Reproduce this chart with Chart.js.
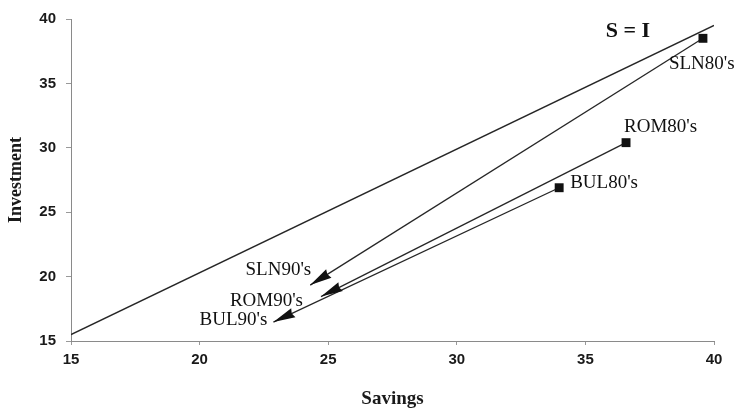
<!DOCTYPE html>
<html>
<head>
<meta charset="utf-8">
<script src="https://cdn.jsdelivr.net/npm/chart.js@4/dist/chart.umd.min.js"></script>
<style>
  html, body { margin: 0; padding: 0; background: #fff; }
  #wrap { width: 738px; height: 411px; position: relative; }
</style>
</head>
<body>
<div id="wrap"><canvas id="c" width="738" height="411"></canvas></div>
<script>
// Savings vs. investment (% of GDP), 1980s averages and 1990s averages
const countries   = ['SLN', 'ROM', 'BUL'];
const savings80s  = [39.57, 36.58, 33.98];
const invest80s   = [38.5, 30.4, 26.9];
const savings90s  = [24.3, 24.72, 22.87];
const invest90s   = [19.34, 18.45, 16.47];

// S = I reference line
const equalityS = [15, 40];
const equalityI = [15.5, 39.5];

// Axis ranges and tick step
const axisMin = 15;
const axisMax = 40;
const tickStep = 5;

// Where each label sits relative to its point (pixels)
const labelPlacement80s = [
  { dx: -34, dy: 26, align: 'left' },
  { dx: -2,  dy: -16, align: 'left' },
  { dx: 11,  dy: -5, align: 'left' }
];
const labelPlacement90s = [
  { dx: 1,   dy: -15, align: 'right' },
  { dx: -18, dy: 4,   align: 'right' },
  { dx: -6,  dy: -2,  align: 'right' }
];

const SERIF = '"Liberation Serif", "Times New Roman", serif';
const SANS = '"Liberation Sans", Arial, sans-serif';

const datasets = [{
  type: 'line',
  label: 'S = I',
  data: equalityS.map((s, i) => ({ x: s, y: equalityI[i] })),
  borderColor: '#262626',
  borderWidth: 1.3,
  pointRadius: 0,
  fill: false
}];

countries.forEach((c, i) => {
  datasets.push({
    type: 'line',
    label: c,
    isArrow: true,
    data: [
      { x: savings80s[i], y: invest80s[i] },
      { x: savings90s[i], y: invest90s[i] }
    ],
    borderColor: '#262626',
    borderWidth: 1.3,
    pointStyle: 'rect',
    pointRadius: [6.3, 0],
    pointBackgroundColor: '#111',
    pointBorderColor: '#111',
    pointBorderWidth: 0,
    fill: false
  });
});

// Arrowheads at the 1990s end of each path
const arrowHeads = {
  id: 'arrowHeads',
  afterDatasetsDraw(chart) {
    const ctx = chart.ctx;
    chart.data.datasets.forEach((ds, di) => {
      if (!ds.isArrow) return;
      const pts = chart.getDatasetMeta(di).data;
      const a = pts[0], b = pts[1];
      const ang = Math.atan2(b.y - a.y, b.x - a.x);
      const len = 22, half = 5;
      ctx.save();
      ctx.translate(b.x, b.y);
      ctx.rotate(ang);
      ctx.beginPath();
      ctx.moveTo(0, 0);
      ctx.lineTo(-len, -half);
      ctx.lineTo(-len * 0.92, 0);
      ctx.lineTo(-len, half);
      ctx.closePath();
      ctx.fillStyle = '#111';
      ctx.fill();
      ctx.restore();
    });
  }
};

// Text labels next to the points
const pointLabels = {
  id: 'pointLabels',
  afterDraw(chart) {
    const ctx = chart.ctx;
    const xs = chart.scales.x, ys = chart.scales.y;
    ctx.save();
    ctx.fillStyle = '#111';
    ctx.textBaseline = 'middle';
    ctx.font = '19px ' + SERIF;
    countries.forEach((c, i) => {
      const p80 = labelPlacement80s[i];
      ctx.textAlign = p80.align;
      ctx.fillText(c + "80's",
        xs.getPixelForValue(savings80s[i]) + p80.dx,
        ys.getPixelForValue(invest80s[i]) + p80.dy);
      const p90 = labelPlacement90s[i];
      ctx.textAlign = p90.align;
      ctx.fillText(c + "90's",
        xs.getPixelForValue(savings90s[i]) + p90.dx,
        ys.getPixelForValue(invest90s[i]) + p90.dy);
    });
    // Name of the reference line, placed near its upper end
    ctx.font = 'bold 22px ' + SERIF;
    ctx.textAlign = 'center';
    ctx.fillText('S = I', xs.getPixelForValue(equalityS[1]) - 86, ys.getPixelForValue(equalityI[1]) + 6);
    ctx.restore();
  }
};

new Chart(document.getElementById('c'), {
  type: 'scatter',
  data: { datasets },
  options: {
    responsive: false,
    animation: false,
    events: [],
    layout: { padding: { top: 18, right: 24, left: 0, bottom: 0 } },
    plugins: { legend: { display: false }, tooltip: { enabled: false } },
    scales: {
      x: {
        type: 'linear',
        min: axisMin, max: axisMax,
        afterFit(scale) { scale.height = 70; },
        ticks: { stepSize: tickStep, padding: 6, color: '#1a1a1a',
                 font: { family: SANS, size: 15, weight: 'bold' } },
        grid: { drawOnChartArea: false, tickLength: 4, color: '#999' },
        border: { color: '#8a8a8a', dash: [5, 2], width: 1 },
        title: { display: true, text: 'Savings', color: '#1a1a1a',
                 font: { family: SERIF, size: 19, weight: 'bold' },
                 padding: { top: 0, bottom: 1 } }
      },
      y: {
        type: 'linear',
        min: axisMin, max: axisMax,
        afterFit(scale) { scale.width = 71; },
        ticks: { stepSize: tickStep, padding: 10, color: '#1a1a1a',
                 font: { family: SANS, size: 15, weight: 'bold' } },
        grid: { drawOnChartArea: false, tickLength: 5, color: '#999' },
        border: { color: '#8a8a8a', dash: [5, 2], width: 1 },
        title: { display: true, text: 'Investment', color: '#1a1a1a',
                 font: { family: SERIF, size: 18, weight: 'bold' },
                 padding: { top: 6, bottom: 0 } }
      }
    }
  },
  plugins: [arrowHeads, pointLabels]
});
</script>
</body>
</html>
